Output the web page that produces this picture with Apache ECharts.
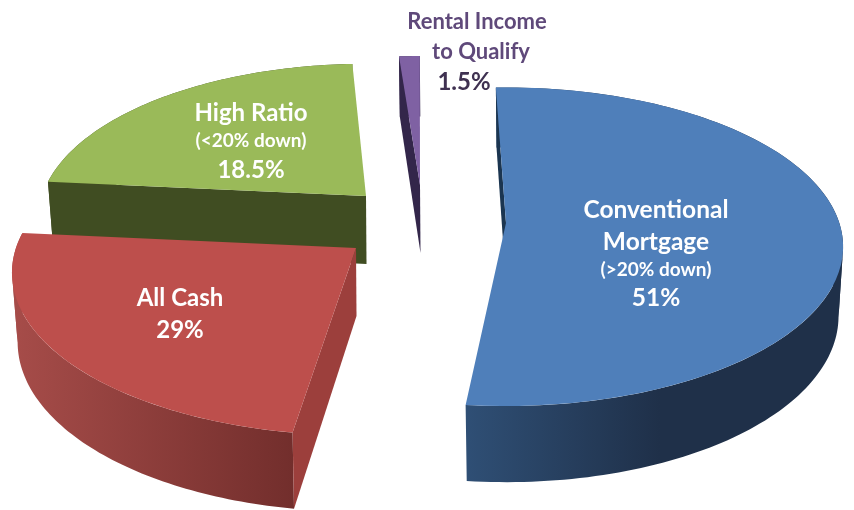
<!DOCTYPE html>
<html><head><meta charset="utf-8">
<style>html,body{margin:0;padding:0;background:#fff}#c{width:854px;height:510px}</style>
<script src="https://cdn.jsdelivr.net/npm/echarts@6/dist/echarts.min.js"></script>
</head><body><div id="c"></div>
<script>
// Data: labelled percentages and the share of the circle each wedge actually occupies in the picture
const categories = ['Conventional Mortgage', 'All Cash', 'High Ratio', 'Rental Income to Qualify'];
const labelledPercent = [51, 29, 18.5, 1.5];
const drawnShares = [52.2, 24.0, 22.7, 1.2];

// Label text per slice
const labelLines = [
  ['Conventional', 'Mortgage', '(>20% down)', labelledPercent[0] + '%'],
  ['All Cash', labelledPercent[1] + '%'],
  ['High Ratio', '(<20% down)', labelledPercent[2] + '%'],
  ['Rental Income', 'to Qualify', labelledPercent[3] + '%']
];

// Layout / style (not data)
const startAngle = -2;
const angleNudge = [0, 3.2, 3.2, 1.6];
const apexes = [[506, 223], [356, 248], [366, 196], [420, 185]];
const sliceScale = [0.995, 1.015, 0.967, 0.94];
const A = 335, B = 156.5, K = 0.15, DEPTH = 68, DEPTH_K = 0.12, LOW_X = 0.985;
const topColors = ['#4f7fba', '#bd4f4c', '#9aba59', '#7f61a3'];
const sideWallColors = ['#1b3550', '#9c3f3c', '#404d22', '#33264a'];
const rimStops = [
  [466, 660, '#2f4f75', '#1f3049'],
  [15, 295, '#a64c49', '#722e2c'],
  [48, 367, '#404d22', '#404d22'],
  [399, 420, '#33264a', '#33264a']
];
const labelBoxes = [
  [[656, 210, 24.5], [656, 242, 24.5], [656, 270, 19], [656, 298, 24.5]],
  [[180, 298, 24], [180, 330, 24]],
  [[251, 113, 24], [251, 141, 19], [251, 170, 24]],
  [[477, 22, 22], [481, 52, 22], [464, 82, 24]]
];
const labelColors = [
  ['#fff', '#fff', '#fff', '#fff'],
  ['#fff', '#fff'],
  ['#fff', '#fff', '#fff'],
  ['#5f497a', '#5f497a', '#3f3151']
];

function project(idx, deg, low) {
  const a = deg * Math.PI / 180, sc = sliceScale[idx], ap = apexes[idx];
  const u = Math.sin(a) * sc, v = Math.cos(a) * sc, w = 1 + K * v;
  const dx = A * u / w, dy = -B * v / w;
  if (!low) return [ap[0] + dx, ap[1] + dy];
  return [ap[0] + 0.5 + dx * LOW_X, ap[1] + dy + DEPTH * (1 - DEPTH_K * v)];
}
function apexPoint(idx, low) {
  const ap = apexes[idx];
  return low ? [ap[0] + 0.5, ap[1] + DEPTH] : [ap[0], ap[1]];
}
function arc(idx, from, to, low) {
  const pts = [], n = 72;
  for (let i = 0; i <= n; i++) pts.push(project(idx, from + (to - from) * i / n, low));
  return pts;
}
// The rim wall folds over at the left and right silhouettes, so it is split there
function rimRanges(from, to) {
  const cuts = [];
  [99, 261].forEach(function (c) { if (c > from && c < to) cuts.push(c); });
  const edges = [from].concat(cuts, [to]), out = [];
  for (let i = 0; i + 1 < edges.length; i++) out.push([edges[i], edges[i + 1]]);
  return out;
}

function renderItem(params, api) {
  const idx = api.value(1);
  let cum = 0;
  for (let i = 0; i < idx; i++) cum += drawnShares[i];
  const from = startAngle + cum * 3.6 + angleNudge[idx];
  const to = from + api.value(0) * 3.6;
  const rs = rimStops[idx];
  const rimFill = new echarts.graphic.LinearGradient(rs[0], 0, rs[1], 0,
    [{ offset: 0, color: rs[2] }, { offset: 1, color: rs[3] }], true);
  const children = [];
  rimRanges(from, to).forEach(function (r) {
    children.push({ type: 'polygon', shape: { points: arc(idx, r[0], r[1], false).concat(arc(idx, r[1], r[0], true)) },
      style: { fill: rimFill } });
  });
  children.push({ type: 'polygon', shape: { points: [apexPoint(idx, false), project(idx, from, false), project(idx, from, true), apexPoint(idx, true)] },
    style: { fill: sideWallColors[idx] } });
  children.push({ type: 'polygon', shape: { points: [apexPoint(idx, false)].concat(arc(idx, from, to, false)) },
    style: { fill: topColors[idx] } });
  labelLines[idx].forEach(function (txt, j) {
    const b = labelBoxes[idx][j];
    children.push({ type: 'text', z2: 50, style: {
      x: b[0], y: b[1], text: txt, align: 'center', verticalAlign: 'middle',
      fontFamily: 'Lato', fontWeight: 'bold', fontSize: b[2], fill: labelColors[idx][j] } });
  });
  return { type: 'group', children: children };
}

// Painter's order: back wedges first
const drawOrder = [3, 2, 0, 1];
const chart = echarts.init(document.getElementById('c'), null, { renderer: 'canvas' });
chart.setOption({
  animation: false,
  backgroundColor: '#fff',
  series: [{
    type: 'custom',
    coordinateSystem: 'none',
    silent: true,
    renderItem: renderItem,
    encode: { value: 0, itemName: 2 },
    dimensions: ['share', 'slice', 'name'],
    data: drawOrder.map(function (i) { return [drawnShares[i], i, categories[i]]; })
  }]
});
</script></body></html>
